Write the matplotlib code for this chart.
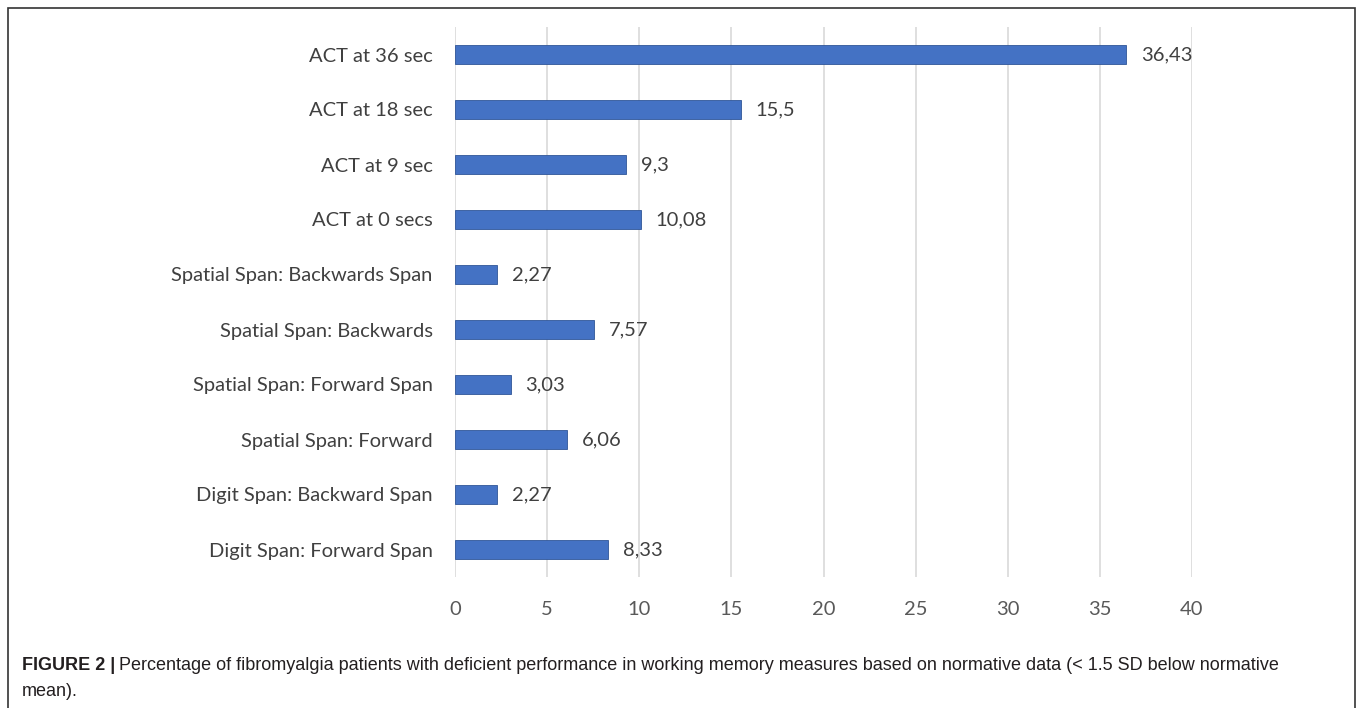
import matplotlib.pyplot as plt
from matplotlib.patches import Rectangle

# данные с рисунка (снизу вверх)
labels = ['Digit Span: Forward Span', 'Digit Span: Backward Span', 'Spatial Span: Forward',
          'Spatial Span: Forward Span', 'Spatial Span: Backwards', 'Spatial Span: Backwards Span',
          'ACT at 0 secs', 'ACT at 9 sec', 'ACT at 18 sec', 'ACT at 36 sec']
values = [8.33, 2.27, 6.06, 3.03, 7.57, 2.27, 10.08, 9.3, 15.5, 36.43]
value_text = ['8,33', '2,27', '6,06', '3,03', '7,57', '2,27', '10,08', '9,3', '15,5', '36,43']
xticks = [0, 5, 10, 15, 20, 25, 30, 35, 40]

fig = plt.figure(figsize=(13.58, 7.08), dpi=100)
ax = fig.add_axes([455 / 1358, 1 - 577 / 708, 737 / 1358, 550 / 708])

y = list(range(len(labels)))
ax.barh(y, values, height=0.36, color='#4472C4', edgecolor='#2F5597', linewidth=0.6, zorder=3)
for yi, v, t in zip(y, values, value_text):
    ax.text(v + 0.8, yi, t, va='center', ha='left', fontsize=14.5, family='Lato', color='#404040')

ax.set_xlim(0, 40)
ax.set_ylim(-0.5, 9.5)
ax.set_yticks(y)
ax.set_yticklabels(labels, family='Lato', fontsize=14.5, color='#404040')
ax.set_xticks(xticks)
ax.set_xticklabels([str(t) for t in xticks], family='Lato', fontsize=14.5, color='#595959')
ax.tick_params(axis='both', length=0)
ax.tick_params(axis='y', pad=16)
ax.tick_params(axis='x', pad=17)
ax.grid(axis='x', color='#D9D9D9', linewidth=1.2, zorder=0)
for s in ax.spines.values():
    s.set_visible(False)

# рамка вокруг рисунка (снизу открыта)
fig.add_artist(Rectangle((8 / 1358, -0.05), 1347 / 1358, 1.05 - 8 / 708, transform=fig.transFigure,
                         fill=False, edgecolor='#333333', linewidth=1.2))

# подпись
cap_y = 1 - 666 / 708
bold = fig.text(22 / 1358, cap_y, 'FIGURE 2 |', fontsize=13, family='Liberation Sans', weight='bold',
                va='center', ha='left', color='#231F20')
fig.canvas.draw()
bb = bold.get_window_extent()
fig.text((bb.x1 + 4) / 1358, cap_y,
         'Percentage of fibromyalgia patients with deficient performance in working memory measures based on normative data (< 1.5 SD below normative',
         fontsize=13, family='Liberation Sans', va='center', ha='left', color='#231F20')
fig.text(22 / 1358, 1 - 692 / 708, 'mean).', fontsize=13, family='Liberation Sans',
         va='center', ha='left', color='#231F20')

plt.savefig('out.png', dpi=100)
